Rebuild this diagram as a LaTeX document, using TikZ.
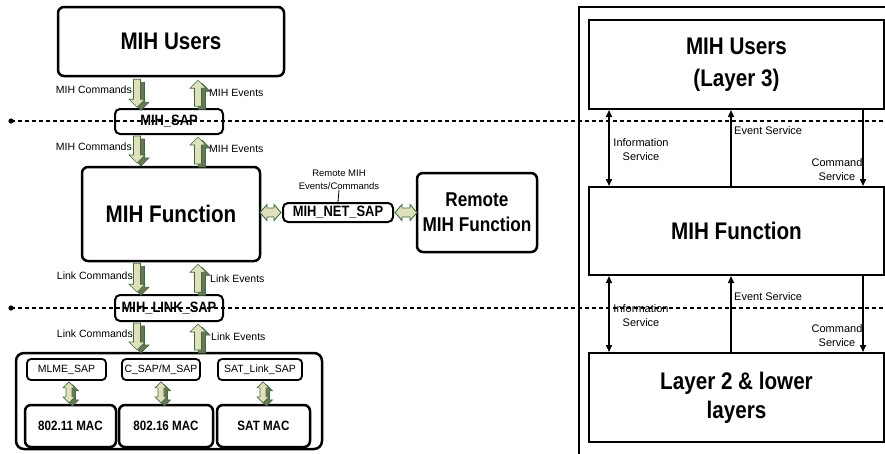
\documentclass[tikz,border=0pt]{standalone}
\usepackage{fontspec}
\setmainfont{Liberation Sans}
\newfontfamily\condfont[FakeStretch=0.86]{Liberation Sans}
\usetikzlibrary{arrows.meta,calc}
\definecolor{fatface}{HTML}{E0E0BC}
\definecolor{fatdark}{HTML}{6A7556}
\definecolor{fatline}{HTML}{3F6B3F}
\tikzset{
  lbox/.style={draw, line width=2.5pt, rounded corners=6pt, inner sep=0pt, align=center},
  sbox/.style={draw, line width=1.8pt, rounded corners=4pt, inner sep=0pt, align=center},
  rbox/.style={draw, line width=2pt, inner sep=0pt, align=center, minimum width=295pt, minimum height=89pt, bigtitle},
  bigtitle/.style={font=\condfont\bfseries\fontsize{24}{32}\selectfont},
  saptitle/.style={font=\condfont\bfseries\fontsize{15}{18}\selectfont},
  mactitle/.style={font=\condfont\bfseries\fontsize{13.5}{16}\selectfont},
  remtitle/.style={font=\condfont\bfseries\fontsize{20}{25}\selectfont},
  lbl/.style={font=\fontsize{10.5}{12.5}\selectfont, inner sep=0pt, align=center},
  rlbl/.style={font=\fontsize{11}{14}\selectfont, inner sep=0pt, align=center},
  sep/.style={line width=1.4pt, dash pattern=on 4pt off 3pt},
  rarr/.style={line width=1.5pt, -{Triangle[length=7pt,width=6pt]}},
  rdbl/.style={line width=1.5pt, {Triangle[length=7pt,width=6pt]}-{Triangle[length=7pt,width=6pt]}},
  fatstyle/.style={line width=0.6pt, draw=fatline},
  pics/fatdown/.style={code={
    \filldraw[fatstyle, fill=fatdark, shift={(4,3)}] (-3.5,0) -- (3.5,0) -- (3.5,#1-8) -- (8,#1-8) -- (0,#1) -- (-8,#1-8) -- (-3.5,#1-8) -- cycle;
    \filldraw[fatstyle, fill=fatface] (-3.5,0) -- (3.5,0) -- (3.5,#1-8) -- (8,#1-8) -- (0,#1) -- (-8,#1-8) -- (-3.5,#1-8) -- cycle;
  }},
  pics/fatup/.style={code={
    \filldraw[fatstyle, fill=fatdark, shift={(4,3)}] (0,0) -- (8,8) -- (3.5,8) -- (3.5,#1) -- (-3.5,#1) -- (-3.5,8) -- (-8,8) -- cycle;
    \filldraw[fatstyle, fill=fatface] (0,0) -- (8,8) -- (3.5,8) -- (3.5,#1) -- (-3.5,#1) -- (-3.5,8) -- (-8,8) -- cycle;
  }},
  pics/fatboth/.style={code={
    \filldraw[fatstyle, fill=fatdark, shift={(3.5,3)}] (0,0) -- (6,6) -- (3,6) -- (3,#1-6) -- (6,#1-6) -- (0,#1) -- (-6,#1-6) -- (-3,#1-6) -- (-3,6) -- (-6,6) -- cycle;
    \filldraw[fatstyle, fill=fatface] (0,0) -- (6,6) -- (3,6) -- (3,#1-6) -- (6,#1-6) -- (0,#1) -- (-6,#1-6) -- (-3,#1-6) -- (-3,6) -- (-6,6) -- cycle;
  }},
  pics/hboth/.style={code={
    \filldraw[line width=0.9pt, draw=fatline, fill=fatface] (0,0) -- (7,-8) -- (7,-4.5) -- (#1-7,-4.5) -- (#1-7,-8) -- (#1,0) -- (#1-7,8) -- (#1-7,4.5) -- (7,4.5) -- (7,8) -- cycle;
  }}
}
\begin{document}
\begin{tikzpicture}[x=1pt, y=-1pt]
\useasboundingbox (0,0) rectangle (885,453);

% ---------- left panel ----------
\node[lbox, bigtitle, minimum width=226pt, minimum height=69pt] (users) at (171,41.5) {MIH Users};
\node[lbox, line width=2pt, rounded corners=5pt, saptitle, minimum width=108pt, minimum height=25pt] (sap) at (169,121.5) {MIH\_SAP};
\node[lbox, bigtitle, minimum width=178pt, minimum height=94pt] (func) at (171,214) {MIH Function};
\node[lbox, line width=2pt, rounded corners=5pt, saptitle, minimum width=108pt, minimum height=26pt] (linksap) at (169,308) {MIH\_LINK\_SAP};
\node[lbox, rounded corners=8pt, minimum width=306pt, minimum height=96pt] (cont) at (169,401) {};

\node[sbox, lbl, minimum width=79pt, minimum height=21pt] (mlme) at (66.5,369.5) {MLME\_SAP};
\node[sbox, lbl, minimum width=78pt, minimum height=21pt] (csap) at (161,369.5) {C\_SAP/M\_SAP};
\node[sbox, lbl, minimum width=84pt, minimum height=21pt] (satsap) at (260,369.5) {SAT\_Link\_SAP};

\node[lbox, mactitle, minimum width=91pt, minimum height=42pt] (mac11) at (70.5,426) {802.11 MAC};
\node[lbox, mactitle, minimum width=94pt, minimum height=42pt] (mac16) at (166,426) {802.16 MAC};
\node[lbox, mactitle, minimum width=93pt, minimum height=42pt] (macsat) at (263.5,426) {SAT MAC};

\node[lbox, line width=2pt, rounded corners=5pt, saptitle, minimum width=110pt, minimum height=19pt] (net) at (338,212.5) {MIH\_NET\_SAP};
\node[lbox, remtitle, minimum width=120pt, minimum height=79pt] (remote) at (477,212.5) {Remote\\MIH Function};
\node[lbl, font=\fontsize{9.5}{12.5}\selectfont] (netlbl) at (339,180) {Remote MIH\\Events/Commands};
\draw[line width=0.8pt] (netlbl.south) -- (net.north);

% fat arrows
\pic at ($(users.south)+(-34,2)$) {fatdown=28};
\pic at ($(users.south)+(27,3)$) {fatup=26};
\pic at ($(sap.south)+(-32,1)$) {fatdown=27};
\pic at ($(sap.south)+(29,2)$) {fatup=27};
\pic at ($(func.south)+(-34,1)$) {fatdown=29};
\pic at ($(func.south)+(27,2)$) {fatup=28};
\pic at ($(linksap.south)+(-32,1)$) {fatdown=27};
\pic at ($(linksap.south)+(29,2)$) {fatup=26};
\pic at ($(mlme.south)+(2.5,1)$) {fatboth=21};
\pic at ($(csap.south)+(0,1)$) {fatboth=21};
\pic at ($(satsap.south)+(3,1)$) {fatboth=21};
\pic at ($(net.west)+(-22,0)$) {hboth=21};
\pic at ($(net.east)+(1,0)$) {hboth=22};

% labels
\node[lbl, anchor=east] at (132,90) {MIH Commands};
\node[lbl, anchor=west] at (209,93) {MIH Events};
\node[lbl, anchor=east] at (132,147) {MIH Commands};
\node[lbl, anchor=west] at (209,149) {MIH Events};
\node[lbl, anchor=east] at (133,276) {Link Commands};
\node[lbl, anchor=west] at (210,279) {Link Events};
\node[lbl, anchor=east] at (133,334) {Link Commands};
\node[lbl, anchor=west] at (211,337) {Link Events};

% ---------- right panel ----------
\draw[line width=1.5pt] (579,454) -- (579,7) -- (886,7);
\node[rbox] (ru) at (736.5,64.5) {MIH Users\\(Layer 3)};
\node[rbox, minimum height=88pt] (rf) at (736.5,231) {MIH Function};
\node[rbox, font=\condfont\bfseries\fontsize{24}{29}\selectfont] (rl) at (736.5,397.5) {Layer 2 \& lower\\layers};

\draw[rdbl] ($(ru.south west)+(21,0)$) -- ($(rf.north west)+(21,0)$);
\draw[rarr] ($(rf.north west)+(143,0)$) -- ($(ru.south west)+(143,0)$);
\draw[rarr] ($(ru.south west)+(275,0)$) -- ($(rf.north west)+(275,0)$);
\draw[rdbl] ($(rf.south west)+(21,0)$) -- ($(rl.north west)+(21,0)$);
\draw[rarr] ($(rl.north west)+(143,0)$) -- ($(rf.south west)+(143,0)$);
\draw[rarr] ($(rf.south west)+(275,0)$) -- ($(rl.north west)+(275,0)$);

\node[rlbl] at (641,150) {Information\\Service};
\node[rlbl, anchor=west] at (734,131) {Event Service};
\node[rlbl] at (837,170) {Command\\Service};
\node[rlbl] at (641,316) {Information\\Service};
\node[rlbl, anchor=west] at (734,297) {Event Service};
\node[rlbl] at (837,336) {Command\\Service};

% ---------- separator lines ----------
\fill (11,121) circle (2.6pt);
\coordinate (d1s) at (11,121);
\coordinate (d1e) at (886,121);
\draw[sep] (d1s) -- (d1e);
\fill (11,308) circle (2.6pt);
\coordinate (d2s) at (11,308);
\coordinate (d2e) at (886,308);
\draw[sep] (d2s) -- (d2e);
\end{tikzpicture}
\end{document}
